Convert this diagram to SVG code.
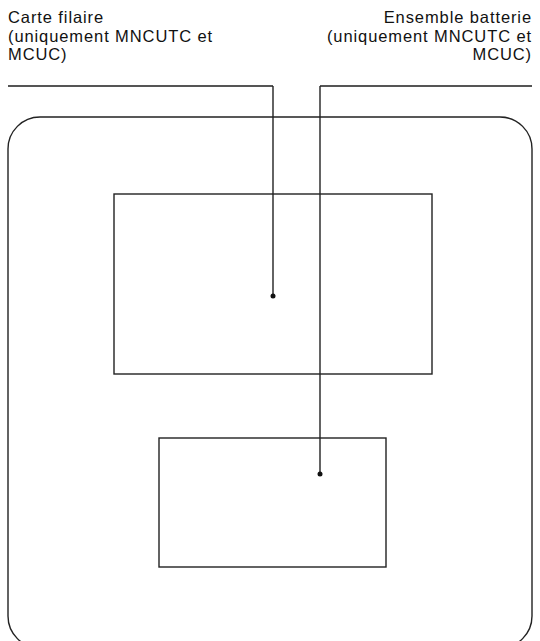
<svg xmlns="http://www.w3.org/2000/svg" width="540" height="641" viewBox="0 0 540 641">
<style>
.box{fill:none;stroke:#222;stroke-width:1.4}
.wire{fill:none;stroke:#222;stroke-width:1.4}
.lead{fill:none;stroke:#555;stroke-width:2}
.lbl{font-family:"Liberation Sans",Arial,sans-serif;font-size:16.5px;letter-spacing:0.9px;fill:#111}
</style>
<rect width="540" height="641" fill="#fff"/>
<g id="outer"><rect class="box" x="8" y="117" width="524" height="531" rx="32" ry="32"/></g>
<g id="board1"><rect class="box" x="114" y="194" width="318" height="180"/></g>
<g id="board2"><rect class="box" x="159" y="438" width="227" height="129"/></g>
<g id="label-left">
<text class="lbl" x="8" y="23">Carte filaire</text>
<text class="lbl" x="8" y="41.5">(uniquement MNCUTC et</text>
<text class="lbl" x="8" y="60">MCUC)</text>
</g>
<g id="label-right" text-anchor="end">
<text class="lbl" x="532" y="23">Ensemble batterie</text>
<text class="lbl" x="532" y="41.5">(uniquement MNCUTC et</text>
<text class="lbl" x="532" y="60">MCUC)</text>
</g>
<g id="connectors">
<line class="lead" x1="8" y1="86" x2="273" y2="86"/>
<line class="wire" x1="273" y1="86" x2="273" y2="296"/>
<circle cx="273" cy="296" r="2.5" fill="#111"/>
<line class="lead" x1="532" y1="86" x2="320" y2="86"/>
<line class="wire" x1="320" y1="86" x2="320" y2="474"/>
<circle cx="320" cy="474" r="2.5" fill="#111"/>
</g>
</svg>
